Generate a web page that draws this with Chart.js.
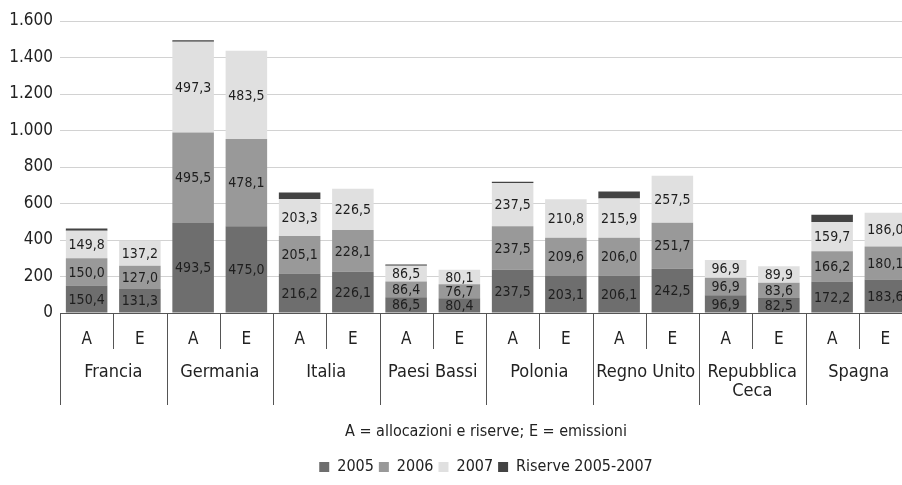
<!DOCTYPE html>
<html>
<head>
<meta charset="utf-8">
<script src="https://cdn.jsdelivr.net/npm/chart.js@4.4.1/dist/chart.umd.min.js"></script>
<style>
  html, body { margin: 0; padding: 0; background: #fff; overflow: hidden; }
  canvas { display: block; }
</style>
</head>
<body>
<canvas id="chart" width="912" height="485"></canvas>
<script>
const countries = ["Francia", "Germania", "Italia", "Paesi Bassi", "Polonia", "Regno Unito", ["Repubblica", "Ceca"], "Spagna"];
const barLabels = ["A", "E", "A", "E", "A", "E", "A", "E", "A", "E", "A", "E", "A", "E", "A", "E"];

const y2005 = [150.4, 131.3, 493.5, 475.0, 216.2, 226.1, 86.5, 80.4, 237.5, 203.1, 206.1, 242.5, 96.9, 82.5, 172.2, 183.6];
const y2006 = [150.0, 127.0, 495.5, 478.1, 205.1, 228.1, 86.4, 76.7, 237.5, 209.6, 206.0, 251.7, 96.9, 83.6, 166.2, 180.1];
const y2007 = [149.8, 137.2, 497.3, 483.5, 203.3, 226.5, 86.5, 80.1, 237.5, 210.8, 215.9, 257.5, 96.9, 89.9, 159.7, 186.0];
const riserve = [13, null, 8, null, 36, null, 7, null, 7, null, 38, null, null, null, 40, null];

const yTicks = [0, 200, 400, 600, 800, 1000, 1200, 1400, 1600];

const FONT = "'DejaVu Sans Condensed', 'DejaVu Sans', sans-serif";
Chart.defaults.font.family = FONT;
Chart.defaults.color = "#222";

function itNum(v) {
  return String(v).replace(/\B(?=(\d{3})+(?!\d))/g, ".");
}

// value labels inside the stacked segments
const segmentLabels = {
  id: "segmentLabels",
  afterDatasetsDraw(chart) {
    const ctx = chart.ctx;
    ctx.save();
    ctx.font = "14px " + FONT;
    ctx.fillStyle = "#1e1e1e";
    ctx.textAlign = "center";
    ctx.textBaseline = "middle";
    [0, 1, 2].forEach((di) => {
      const meta = chart.getDatasetMeta(di);
      const data = chart.data.datasets[di].data;
      meta.data.forEach((bar, i) => {
        if (data[i] == null) return;
        const y = (bar.y + bar.base) / 2;
        ctx.fillText(data[i].toFixed(1).replace(".", ","), bar.x, y + 1);
      });
    });
    ctx.restore();
  },
};

// separators and country names below the axis
const groupAxis = {
  id: "groupAxis",
  afterDraw(chart) {
    const ctx = chart.ctx;
    const xs = chart.scales.x;
    const top = chart.chartArea.bottom;
    const slot = xs.getPixelForValue(1) - xs.getPixelForValue(0);
    ctx.save();
    ctx.strokeStyle = "#555";
    ctx.lineWidth = 1;
    for (let i = 0; i < barLabels.length; i++) {
      const x = Math.round(xs.getPixelForValue(i) - slot / 2) + 0.5;
      const bottom = i % 2 === 0 ? 405 : 349;
      ctx.beginPath();
      ctx.moveTo(x, top);
      ctx.lineTo(x, bottom);
      ctx.stroke();
    }
    ctx.font = "18px " + FONT;
    ctx.fillStyle = "#222";
    ctx.textAlign = "center";
    ctx.textBaseline = "middle";
    countries.forEach((name, g) => {
      const cx = (xs.getPixelForValue(g * 2) + xs.getPixelForValue(g * 2 + 1)) / 2;
      const lines = Array.isArray(name) ? name : [name];
      lines.forEach((ln, k) => ctx.fillText(ln, cx, 372 + k * 19));
    });
    ctx.restore();
  },
};

// centre the legend on the plot like the original
const legendShift = {
  id: "legendShift",
  afterLayout(chart) {
    if (chart.legend) {
      chart.legend.left += 30;
      chart.legend.right += 30;
    }
  },
};

new Chart(document.getElementById("chart"), {
  type: "bar",
  data: {
    labels: barLabels,
    datasets: [
      { label: "2005", data: y2005, backgroundColor: "#6e6e6e", stack: "s" },
      { label: "2006", data: y2006, backgroundColor: "#999999", stack: "s" },
      { label: "2007", data: y2007, backgroundColor: "#e0e0e0", stack: "s" },
      { label: "Riserve 2005-2007", data: riserve, backgroundColor: "#434343", stack: "s" },
    ],
  },
  options: {
    responsive: false,
    devicePixelRatio: 1,
    animation: false,
    datasets: {
      bar: { categoryPercentage: 1, barPercentage: 0.78, borderWidth: 0 },
    },
    layout: { padding: { top: 21, right: 0, bottom: 0, left: 0 } },
    plugins: {
      tooltip: { enabled: false },
      legend: {
        position: "bottom",
        labels: {
          boxWidth: 10,
          boxHeight: 10,
          padding: 5,
          color: "#222",
          font: { size: 16 },
        },
      },
    },
    scales: {
      x: {
        stacked: true,
        grid: { display: false, drawTicks: false },
        border: { display: true, color: "#555", width: 1 },
        ticks: { padding: 16, font: { size: 17 }, color: "#222" },
        title: {
          display: true,
          text: "A = allocazioni e riserve; E = emissioni",
          font: { size: 16 },
          color: "#222",
          padding: { top: 0, bottom: 13 },
        },
        afterFit(scale) {
          scale.height = 141;
        },
      },
      y: {
        stacked: true,
        min: 0,
        max: 1600,
        afterBuildTicks(scale) {
          scale.ticks = yTicks.map((v) => ({ value: v }));
        },
        grid: { color: "#d2d2d2", drawTicks: false },
        border: { display: false },
        ticks: {
          padding: 7,
          font: { size: 17 },
          color: "#222",
          callback: (v) => itNum(v),
        },
        afterFit(scale) {
          scale.width = 60;
        },
      },
    },
  },
  plugins: [segmentLabels, groupAxis, legendShift],
});
</script>
</body>
</html>
